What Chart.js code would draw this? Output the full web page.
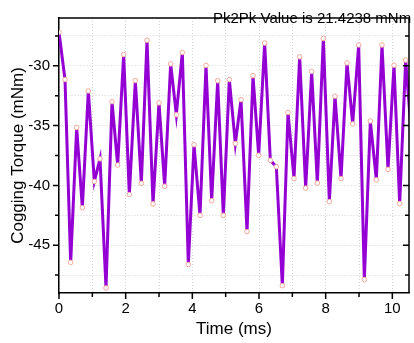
<!DOCTYPE html>
<html>
<head>
<meta charset="utf-8">
<script src="https://cdn.jsdelivr.net/npm/chart.js@4"></script>
<style>
  html, body { margin: 0; padding: 0; background: #fff; }
  #wrap { width: 414px; height: 343px; }
</style>
</head>
<body>
<div id="wrap"><canvas id="torqueChart"></canvas></div>
<script>
// time (ms) and cogging torque (mNm)
const timeMs = [0, 0.18, 0.35, 0.53, 0.70, 0.88, 1.06, 1.23, 1.41, 1.59, 1.76, 1.94, 2.11, 2.29, 2.47, 2.64,
  2.82, 3.00, 3.17, 3.35, 3.52, 3.70, 3.88, 4.05, 4.23, 4.41, 4.58, 4.76, 4.93, 5.11, 5.29, 5.46,
  5.64, 5.82, 5.99, 6.17, 6.34, 6.52, 6.70, 6.87, 7.05, 7.22, 7.40, 7.58, 7.75, 7.93, 8.11, 8.28,
  8.46, 8.64, 8.81, 8.99, 9.16, 9.34, 9.52, 9.69, 9.87, 10.05, 10.22, 10.40, 10.57];
const torque = [-27.19, -31.15, -46.44, -35.16, -41.87, -32.1, -39.67, -37.78, -48.58, -33.0, -38.3, -29.06,
  -40.77, -31.23, -39.83, -27.86, -41.55, -33.10, -40.07, -29.84, -34.09, -28.88, -46.62, -36.6,
  -42.51, -29.97, -41.28, -31.25, -42.51, -31.15, -36.5, -32.83, -43.87, -30.83, -37.48, -28.1,
  -37.9, -38.44, -48.39, -33.9, -39.43, -29.25, -40.23, -30.48, -39.81, -27.72, -41.36, -32.54,
  -39.43, -29.76, -34.86, -28.26, -47.88, -34.62, -39.54, -28.26, -38.66, -29.95, -41.52, -29.52, -35.7];
const xMajorTicks = [0, 2, 4, 6, 8, 10];
const yMajorTicks = [-30, -35, -40, -45];
const titleText = "Pk2Pk Value is 21.4238 mNm";

const FONT = "'Liberation Sans', Arial, sans-serif";

// axis ticks + top/right frame, drawn from the scales
const framePlugin = {
  id: "frame",
  afterDraw(chart) {
    const ctx = chart.ctx;
    const a = chart.chartArea;
    const xs = chart.scales.x, ys = chart.scales.y;
    ctx.save();
    ctx.strokeStyle = "#000";
    ctx.lineWidth = 1.5;
    ctx.beginPath();
    ctx.moveTo(a.left, a.top); ctx.lineTo(a.right, a.top);
    ctx.moveTo(a.right, a.top); ctx.lineTo(a.right, a.bottom);
    ctx.stroke();
    ctx.beginPath();
    xs.ticks.forEach(t => {
      const px = xs.getPixelForValue(t.value);
      const len = xMajorTicks.includes(t.value) ? 6 : 4;
      ctx.moveTo(px, a.bottom); ctx.lineTo(px, a.bottom + len);
    });
    ys.ticks.forEach(t => {
      const py = ys.getPixelForValue(t.value);
      const len = yMajorTicks.includes(t.value) ? 6 : 4;
      ctx.moveTo(a.left, py); ctx.lineTo(a.left - len, py);
      ctx.moveTo(a.right, py); ctx.lineTo(a.right - len, py);
    });
    ctx.stroke();
    ctx.fillStyle = "#000";
    ctx.font = "15px " + FONT;
    ctx.textBaseline = "middle";
    ctx.textAlign = "left";
    ctx.fillText(titleText, 213, 19);
    ctx.restore();
  }
};

new Chart(document.getElementById("torqueChart"), {
  type: "line",
  data: {
    labels: timeMs,
    datasets: [{
      data: timeMs.map((t, i) => ({ x: t, y: torque[i] })),
      borderColor: "#9400D3",
      borderWidth: 3,
      tension: 0,
      pointRadius: 2.3,
      pointBorderWidth: 1,
      pointBorderColor: "#F4A89C",
      pointBackgroundColor: "#ffffff"
    }]
  },
  options: {
    responsive: true,
    maintainAspectRatio: false,
    animation: false,
    layout: { padding: { top: 6, right: 2, left: 0, bottom: 0 } },
    plugins: { legend: { display: false }, tooltip: { enabled: false } },
    scales: {
      x: {
        type: "linear",
        min: 0,
        max: 10.5,
        afterFit: s => { s.height = 50; },
        afterBuildTicks: s => {
          s.ticks = [];
          for (let v = 0; v <= 10; v++) s.ticks.push({ value: v });
        },
        ticks: {
          color: "#000",
          font: { family: FONT, size: 15 },
          padding: 7,
          maxRotation: 0,
          autoSkip: false,
          callback: v => xMajorTicks.includes(v) ? String(v) : ""
        },
        grid: { color: "#d4d4d4", lineWidth: 1, drawTicks: false },
        border: { color: "#000", width: 1.5, dash: [1, 2] },
        title: {
          display: true,
          text: "Time (ms)",
          color: "#000",
          font: { family: FONT, size: 17 },
          padding: { top: 0, bottom: 3 }
        }
      },
      y: {
        min: -49,
        max: -26,
        afterFit: s => { s.width = 59; },
        afterBuildTicks: s => {
          s.ticks = [];
          for (let v = -47.5; v <= -27.5; v += 2.5) s.ticks.push({ value: v });
        },
        ticks: {
          color: "#000",
          font: { family: FONT, size: 15 },
          padding: 9,
          autoSkip: false,
          callback: v => yMajorTicks.includes(v) ? String(v) : ""
        },
        grid: { color: "#d4d4d4", lineWidth: 1, drawTicks: false },
        border: { color: "#000", width: 1.5, dash: [1, 2] },
        title: {
          display: true,
          text: "Cogging Torque (mNm)",
          color: "#000",
          font: { family: FONT, size: 17 },
          padding: { top: 8, bottom: 2 }
        }
      }
    }
  },
  plugins: [framePlugin]
});
</script>
</body>
</html>
